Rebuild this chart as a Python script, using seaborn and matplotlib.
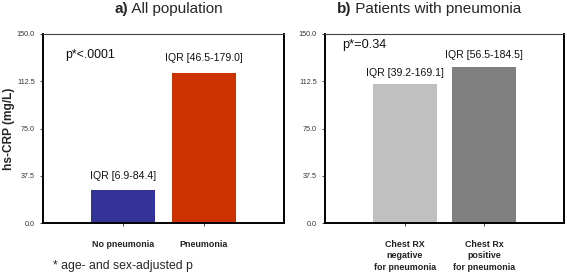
import matplotlib
matplotlib.use("Agg")
import matplotlib.pyplot as plt
import seaborn as sns

# data
cats_a = ["No pneumonia", "Pneumonia"]
vals_a = [26.4, 119.3]
iqr_a = ["IQR [6.9-84.4]", "IQR [46.5-179.0]"]
cols_a = ["#333399", "#CC3300"]

cats_b = ["Chest RX\nnegative\nfor pneumonia", "Chest Rx\npositive\nfor pneumonia"]
vals_b = [110.3, 123.6]
iqr_b = ["IQR [39.2-169.1]", "IQR [56.5-184.5]"]
cols_b = ["#C0C0C0", "#808080"]

yticks = [0.0, 37.5, 75.0, 112.5, 150.0]

sns.set_style("white")
plt.rcParams["font.family"] = ["Liberation Sans", "DejaVu Sans"]

W, H = 567, 274
fig = plt.figure(figsize=(W / 100, H / 100), dpi=100)


def px_axes(left, top, right, bottom):
	return fig.add_axes([left / W, 1 - bottom / H, (right - left) / W, (bottom - top) / H])


def draw_panel(ax, cats, vals, cols, title_bold, title_rest, tx):
	sns.barplot(x=cats, y=vals, hue=cats, palette=cols, ax=ax, width=0.8,
				legend=False, saturation=1, edgecolor="none")
	ax.set_xlim(-1, 2)
	ax.set_ylim(0, 150)
	ax.set_yticks(yticks)
	ax.set_yticklabels([f"{v:.1f}" for v in yticks], fontsize=5.2, color="#333333")
	ax.tick_params(axis="x", length=2, width=0.6, pad=10, labelsize=6.4, bottom=True)
	ax.tick_params(axis="y", length=2, width=0.6, pad=4, left=True)
	for lab in ax.get_xticklabels():
		lab.set_fontweight("bold")
		lab.set_color("#222222")
		lab.set_linespacing(1.35)
	for s in ["left", "right", "bottom"]:
		ax.spines[s].set_linewidth(1.4)
		ax.spines[s].set_color("black")
	ax.spines["top"].set_linewidth(0.8)
	ax.spines["top"].set_color("#444444")
	fig.text(tx, 1 - 9 / H, title_bold, fontsize=11, fontweight="bold", ha="right", va="center")
	fig.text(tx, 1 - 9 / H, " " + title_rest, fontsize=11, ha="left", va="center")


ax1 = px_axes(43, 34, 284, 223)
draw_panel(ax1, cats_a, vals_a, cols_a, "a)", "All population", 128 / W)
ax1.set_ylabel("hs-CRP (mg/L)", fontsize=8.6, fontweight="bold")
ax1.yaxis.set_label_coords(-0.118, 0.5)
ax1.text(0, 37.5, iqr_a[0], ha="center", va="center", fontsize=7.6, color="#111111")
ax1.text(1, 131, iqr_a[1], ha="center", va="center", fontsize=7.6, color="#111111")
ax1.text(-0.73, 133, "p*<.0001", ha="left", va="center", fontsize=8.9, color="#111111")

ax2 = px_axes(325, 34, 564, 223)
draw_panel(ax2, cats_b, vals_b, cols_b, "b)", "Patients with pneumonia", 351 / W)
ax2.set_ylabel("")
ax2.text(0, 119, iqr_b[0], ha="center", va="center", fontsize=7.6, color="#111111")
ax2.text(1, 133.3, iqr_b[1], ha="center", va="center", fontsize=7.6, color="#111111")
ax2.text(-0.78, 141, "p*=0.34", ha="left", va="center", fontsize=9.2, color="#111111")

fig.text(53 / W, 1 - 266 / H, "* age- and sex-adjusted p", fontsize=8.8, ha="left", va="center")

fig.savefig("out.png", dpi=100)
